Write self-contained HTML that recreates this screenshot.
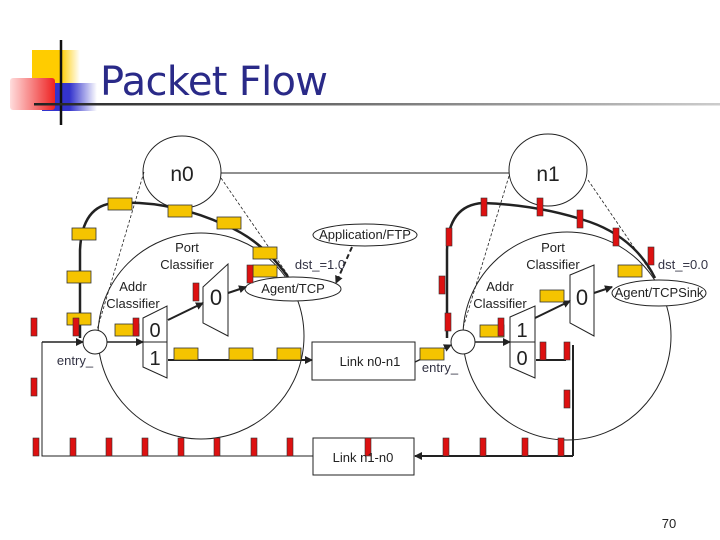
<!DOCTYPE html>
<html><head><meta charset="utf-8"><style>
body{margin:0;background:#fff;width:720px;height:540px;overflow:hidden}
svg{display:block}
text{font-family:"Liberation Sans","DejaVu Sans",sans-serif}
</style></head><body>
<svg width="720" height="540" viewBox="0 0 720 540">
<defs>
<linearGradient id="hl" x1="0" x2="1"><stop offset="0" stop-color="#222"/><stop offset="1" stop-color="#ccc"/></linearGradient>
<linearGradient id="rg" x1="1" x2="0"><stop offset="0" stop-color="#e22"/><stop offset="1" stop-color="#fdd"/></linearGradient>
<linearGradient id="yg" x1="0" x2="1"><stop offset="0.6" stop-color="#fc0"/><stop offset="1" stop-color="#fff"/></linearGradient>
<linearGradient id="bg" x1="0" x2="1"><stop offset="0.5" stop-color="#33c"/><stop offset="1" stop-color="#fff"/></linearGradient>
<marker id="ar" markerWidth="8" markerHeight="8" refX="7" refY="4" orient="auto" markerUnits="userSpaceOnUse"><path d="M0,0 L8,4 L0,8 z" fill="#222"/></marker>
</defs>
<rect x="32" y="50" width="48" height="36" fill="url(#yg)"/>
<rect x="42" y="83" width="55" height="28" fill="url(#bg)"/>
<rect x="10" y="78" width="45" height="32" fill="url(#rg)" rx="3"/>
<line x1="61" y1="40" x2="61" y2="125" stroke="#111" stroke-width="2.5"/>
<rect x="34" y="103" width="686" height="2.5" fill="url(#hl)"/>
<text x="100" y="95" font-size="40" fill="#2a2a88" style="font-family:'DejaVu Sans',sans-serif" textLength="228">Packet Flow</text>

<g fill="none" stroke="#222" stroke-width="1">
<ellipse cx="182" cy="172" rx="39" ry="36"/>
<ellipse cx="548" cy="170" rx="39" ry="36"/>
<line x1="221" y1="173" x2="509" y2="173"/>
<circle cx="201" cy="336" r="103"/>
<circle cx="567" cy="336" r="104"/>
<g stroke-dasharray="3,2" stroke-width="0.8">
<line x1="144" y1="172" x2="97" y2="330"/>
<line x1="221" y1="178" x2="290" y2="278"/>
<line x1="509" y1="176" x2="463" y2="328"/>
<line x1="588" y1="180" x2="655" y2="278"/>
</g>
<rect x="312" y="342" width="103" height="38" fill="#fff"/>
<rect x="313" y="438" width="101" height="37" fill="#fff"/>
<path d="M143,318 L167,306 L167,378 L143,367 Z M143,342 L167,342" fill="#fff"/>
<path d="M203,287 L228,264 L228,336 L203,323 Z" fill="#fff"/>
<path d="M510,317 L535,306 L535,378 L510,367 Z M510,342 L535,342" fill="#fff"/>
<path d="M570,275 L594,265 L594,336 L570,323 Z" fill="#fff"/>
<circle cx="95" cy="342" r="12" fill="#fff"/>
<circle cx="463" cy="342" r="12" fill="#fff"/>
<ellipse cx="293" cy="289" rx="48" ry="12" fill="#fff"/>
<ellipse cx="365" cy="235" rx="52" ry="11" fill="#fff"/>
<ellipse cx="659" cy="293" rx="47" ry="13" fill="#fff"/>
<line x1="42" y1="342" x2="83" y2="342" marker-end="url(#ar)" stroke-width="1.5"/>
<polyline points="42,342 42,456 313,456"/>
<line x1="573" y1="345" x2="573" y2="456" stroke-width="2"/>
<line x1="573" y1="456" x2="415" y2="456" stroke-width="2" marker-end="url(#ar)"/>
<polyline points="536,360 566,360" stroke-width="2"/>
<line x1="107" y1="342" x2="143" y2="342" stroke-width="1.5" marker-end="url(#ar)"/>
<line x1="168" y1="320" x2="203" y2="303" stroke-width="2" marker-end="url(#ar)"/>
<line x1="228" y1="293" x2="246" y2="287" stroke-width="2" marker-end="url(#ar)"/>
<line x1="168" y1="360" x2="312" y2="360" stroke-width="2" marker-end="url(#ar)"/>
<line x1="415" y1="362" x2="451" y2="345" stroke-width="1.5" marker-end="url(#ar)"/>
<line x1="475" y1="342" x2="510" y2="342" stroke-width="1.5" marker-end="url(#ar)"/>
<line x1="535" y1="318" x2="570" y2="301" stroke-width="2" marker-end="url(#ar)"/>
<line x1="594" y1="293" x2="612" y2="287" stroke-width="2" marker-end="url(#ar)"/>
<line x1="352" y1="247" x2="336" y2="283" stroke-width="2" stroke-dasharray="5,3" marker-end="url(#ar)"/>
<path d="M80,338 L80,250 Q82,205 115,203 Q170,200 225,225 Q262,240 288,277" stroke-width="2.5"/>
<path d="M447,338 L447,250 Q448,205 483,203 Q540,205 590,222 Q635,238 655,278" stroke-width="2.5"/>
</g>
<g fill="#f5c400" stroke="#333" stroke-width="0.8">
<rect x="108" y="198" width="24" height="12"/><rect x="168" y="205" width="24" height="12"/>
<rect x="217" y="217" width="24" height="12"/><rect x="253" y="247" width="24" height="12"/>
<rect x="253" y="265" width="24" height="12"/><rect x="72" y="228" width="24" height="12"/>
<rect x="67" y="271" width="24" height="12"/><rect x="67" y="313" width="24" height="12"/>
<rect x="115" y="324" width="24" height="12"/>
<rect x="174" y="348" width="24" height="12"/><rect x="229" y="348" width="24" height="12"/>
<rect x="277" y="348" width="24" height="12"/>
<rect x="618" y="265" width="24" height="12"/><rect x="540" y="290" width="24" height="12"/>
<rect x="480" y="325" width="24" height="12"/><rect x="420" y="348" width="24" height="12"/>
</g>
<g fill="#dd1111" stroke="#333" stroke-width="0.6">
<rect x="31" y="318" width="6" height="18"/><rect x="73" y="318" width="6" height="18"/>
<rect x="133" y="318" width="6" height="18"/><rect x="193" y="283" width="6" height="18"/>
<rect x="247" y="265" width="6" height="18"/><rect x="31" y="378" width="6" height="18"/>
<rect x="481" y="198" width="6" height="18"/><rect x="537" y="198" width="6" height="18"/>
<rect x="577" y="210" width="6" height="18"/><rect x="613" y="228" width="6" height="18"/>
<rect x="446" y="228" width="6" height="18"/><rect x="439" y="276" width="6" height="18"/>
<rect x="445" y="313" width="6" height="18"/><rect x="648" y="247" width="6" height="18"/>
<rect x="498" y="318" width="6" height="18"/><rect x="540" y="342" width="6" height="18"/>
<rect x="564" y="342" width="6" height="18"/><rect x="564" y="390" width="6" height="18"/>
<rect x="33" y="438" width="6" height="18"/><rect x="70" y="438" width="6" height="18"/>
<rect x="106" y="438" width="6" height="18"/><rect x="142" y="438" width="6" height="18"/>
<rect x="178" y="438" width="6" height="18"/><rect x="214" y="438" width="6" height="18"/>
<rect x="251" y="438" width="6" height="18"/><rect x="287" y="438" width="6" height="18"/>
<rect x="365" y="438" width="6" height="18"/><rect x="443" y="438" width="6" height="18"/>
<rect x="480" y="438" width="6" height="18"/><rect x="522" y="438" width="6" height="18"/>
<rect x="558" y="438" width="6" height="18"/>
</g>
<g font-size="13" fill="#222" text-anchor="middle">
<text x="182" y="181" font-size="21">n0</text>
<text x="548" y="181" font-size="21">n1</text>
<text x="187" y="252">Port</text><text x="187" y="269">Classifier</text>
<text x="133" y="291">Addr</text><text x="133" y="308">Classifier</text>
<text x="553" y="252">Port</text><text x="553" y="269">Classifier</text>
<text x="500" y="291">Addr</text><text x="500" y="308">Classifier</text>
<text x="155" y="337" font-size="20">0</text><text x="155" y="365" font-size="20">1</text>
<text x="216" y="305" font-size="22">0</text>
<text x="522" y="337" font-size="20">1</text><text x="522" y="365" font-size="20">0</text>
<text x="582" y="305" font-size="22">0</text>
<text x="293" y="293">Agent/TCP</text>
<text x="365" y="239">Application/FTP</text>
<text x="659" y="297">Agent/TCPSink</text>
<text x="370" y="366">Link n0-n1</text>
<text x="363" y="462">Link n1-n0</text>
<text x="75" y="365" fill="#334">entry_</text>
<text x="440" y="372" fill="#334">entry_</text>
<text x="320" y="269" fill="#334">dst_=1.0</text>
<text x="683" y="269" fill="#334">dst_=0.0</text>
<text x="669" y="528">70</text>
</g>
</svg>
</body></html>
